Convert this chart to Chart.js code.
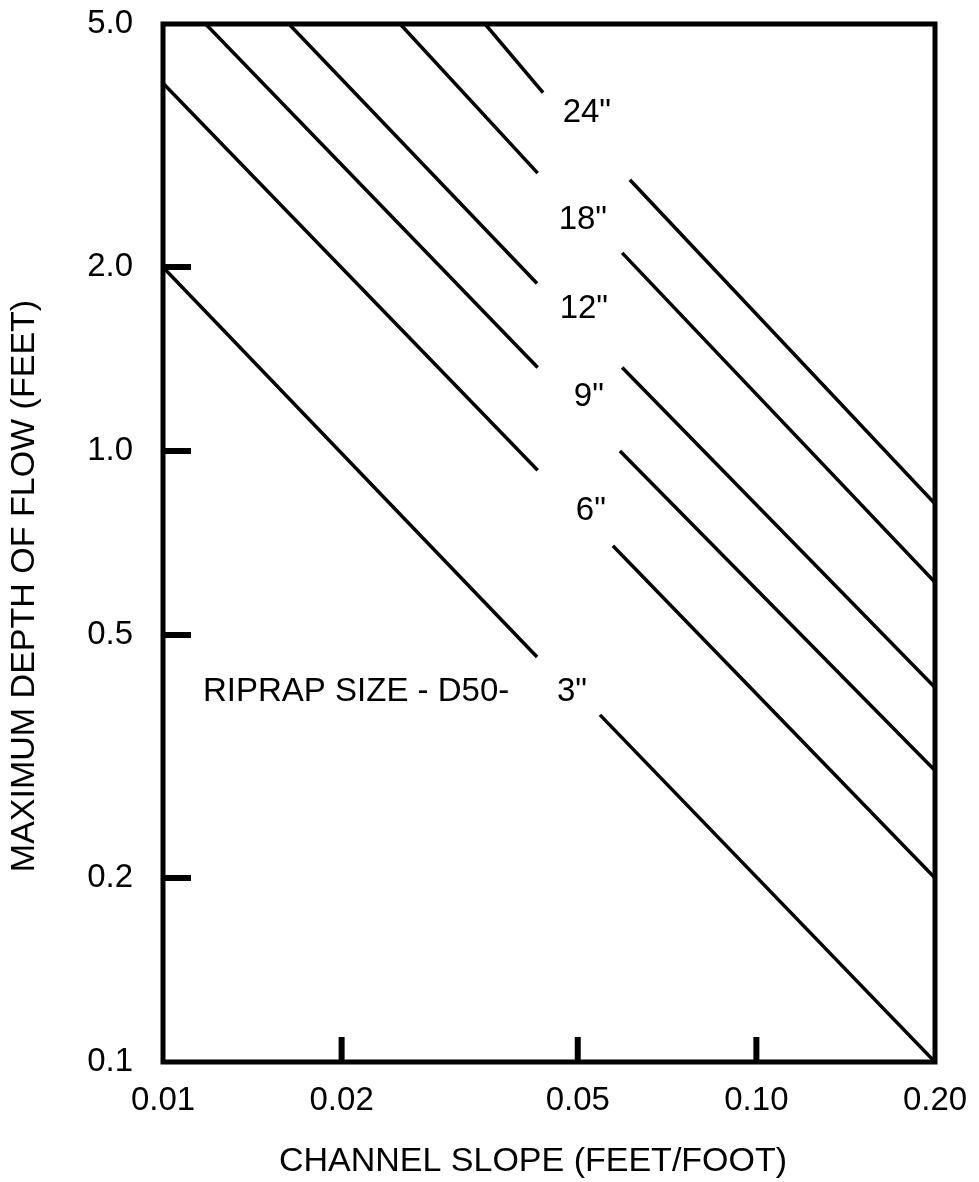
<!DOCTYPE html>
<html lang="en">
<head>
<meta charset="UTF-8">
<title>Riprap size - depth of flow vs channel slope</title>
<script src="https://cdn.jsdelivr.net/npm/chart.js"></script>
<style>
  body { margin: 0; background: #fff; }
  #wrap { width: 979px; height: 1182px; }
</style>
</head>
<body>
<div id="wrap"><canvas id="riprap"></canvas></div>
<script>
// riprap D50 sizes, one straight line each, broken where the size label sits
var sizes = ['3"', '6"', '9"', '12"', '18"', '24"'];

// part left of the labels (slope, depth)
var leftSlope = [[0.01, 0.0427], [0.01, 0.0428], [0.0118, 0.0428], [0.0163, 0.0427], [0.0251, 0.0428], [0.0349, 0.0437]];
var leftDepth = [[2.0, 0.46], [4.0, 0.93], [5.0, 1.37], [5.0, 1.88], [5.0, 2.85], [5.0, 3.86]];
// part right of the labels
var rightSlope = [[0.0545, 0.2], [0.0573, 0.2], [0.0589, 0.2], [0.0594, 0.2], [0.0594, 0.2], [0.0612, 0.2]];
var rightDepth = [[0.37, 0.10], [0.70, 0.20], [1.00, 0.30], [1.37, 0.41], [2.11, 0.61], [2.78, 0.82]];

// where the size labels sit (slope, depth)
var labelSlope = [0.0489, 0.0526, 0.0522, 0.0512, 0.0510, 0.0518];
var labelDepth = [0.403, 0.798, 1.226, 1.708, 2.388, 3.574];
var noteText = 'RIPRAP SIZE - D50-';
var noteAt = [0.01168, 0.403];

var xTicks = [0.01, 0.02, 0.05, 0.10, 0.20];
var xTickLabels = ['0.01', '0.02', '0.05', '0.10', '0.20'];
var yTicks = [0.1, 0.2, 0.5, 1.0, 2.0, 5.0];
var yTickLabels = ['0.1', '0.2', '0.5', '1.0', '2.0', '5.0'];

var xTitle = 'CHANNEL SLOPE (FEET/FOOT)';
var yTitle = 'MAXIMUM DEPTH OF FLOW (FEET)';

var FONT = '"Liberation Sans", Arial, sans-serif';

var datasets = [];
for (var i = 0; i < sizes.length; i++) {
    var parts = [[leftSlope[i], leftDepth[i]], [rightSlope[i], rightDepth[i]]];
    parts.forEach(function (p) {
        datasets.push({
            label: sizes[i],
            data: p[0].map(function (x, k) { return { x: x, y: p[1][k] }; }),
            borderColor: '#000',
            borderWidth: 3.5,
            pointRadius: 0,
            tension: 0,
            fill: false
        });
    });
}

// frame, inside tick marks, labels and axis titles
var frame = {
    id: 'frame',
    afterDatasetsDraw: function (chart) {
        var ctx = chart.ctx, a = chart.chartArea;
        var xs = chart.scales.x, ys = chart.scales.y;
        ctx.save();
        ctx.strokeStyle = '#000';
        ctx.lineWidth = 5;
        ctx.strokeRect(a.left, a.top, a.right - a.left, a.bottom - a.top);

        ctx.lineWidth = 6;
        ctx.beginPath();
        yTicks.slice(1, -1).forEach(function (v) {
            var p = ys.getPixelForValue(v);
            ctx.moveTo(a.left, p);
            ctx.lineTo(a.left + 28, p);
        });
        xTicks.slice(1, -1).forEach(function (v) {
            var p = xs.getPixelForValue(v);
            ctx.moveTo(p, a.bottom);
            ctx.lineTo(p, a.bottom - 25);
        });
        ctx.stroke();

        ctx.fillStyle = '#000';
        ctx.font = '33px ' + FONT;
        ctx.textBaseline = 'middle';
        ctx.textAlign = 'center';
        sizes.forEach(function (s, i) {
            ctx.fillText(s, xs.getPixelForValue(labelSlope[i]), ys.getPixelForValue(labelDepth[i]));
        });
        ctx.textAlign = 'left';
        ctx.fillText(noteText, xs.getPixelForValue(noteAt[0]), ys.getPixelForValue(noteAt[1]));

        ctx.font = '34px ' + FONT;
        ctx.textAlign = 'center';
        ctx.fillText(xTitle, 533, 1162);
        ctx.translate(25, 586);
        ctx.rotate(-Math.PI / 2);
        ctx.fillText(yTitle, 0, 0);
        ctx.restore();
    }
};

new Chart(document.getElementById('riprap'), {
    type: 'line',
    data: { datasets: datasets },
    options: {
        responsive: true,
        maintainAspectRatio: false,
        animation: false,
        layout: { padding: { left: 0, top: 24, right: 44, bottom: 0 } },
        plugins: { legend: { display: false }, tooltip: { enabled: false } },
        scales: {
            x: {
                type: 'logarithmic',
                min: 0.01,
                max: 0.2,
                grid: { display: false, drawTicks: false },
                border: { display: false },
                afterBuildTicks: function (s) { s.ticks = xTicks.map(function (v) { return { value: v }; }); },
                afterFit: function (s) {
                    s.height = 120;
                    s.paddingLeft = 0;
                    s.paddingRight = 0;
                },
                ticks: {
                    autoSkip: false,
                    maxRotation: 0,
                    padding: 19,
                    color: '#000',
                    font: { family: FONT, size: 33 },
                    callback: function (v) { return xTickLabels[xTicks.indexOf(v)]; }
                }
            },
            y: {
                type: 'logarithmic',
                min: 0.1,
                max: 5,
                grid: { display: false, drawTicks: false },
                border: { display: false },
                afterBuildTicks: function (s) { s.ticks = yTicks.map(function (v) { return { value: v }; }); },
                afterFit: function (s) {
                    s.width = 163;
                    s.paddingTop = 0;
                    s.paddingBottom = 0;
                },
                ticks: {
                    autoSkip: false,
                    padding: 30,
                    color: '#000',
                    font: { family: FONT, size: 33 },
                    callback: function (v) { return yTickLabels[yTicks.indexOf(v)]; }
                }
            }
        }
    },
    plugins: [frame]
});
</script>
</body>
</html>
